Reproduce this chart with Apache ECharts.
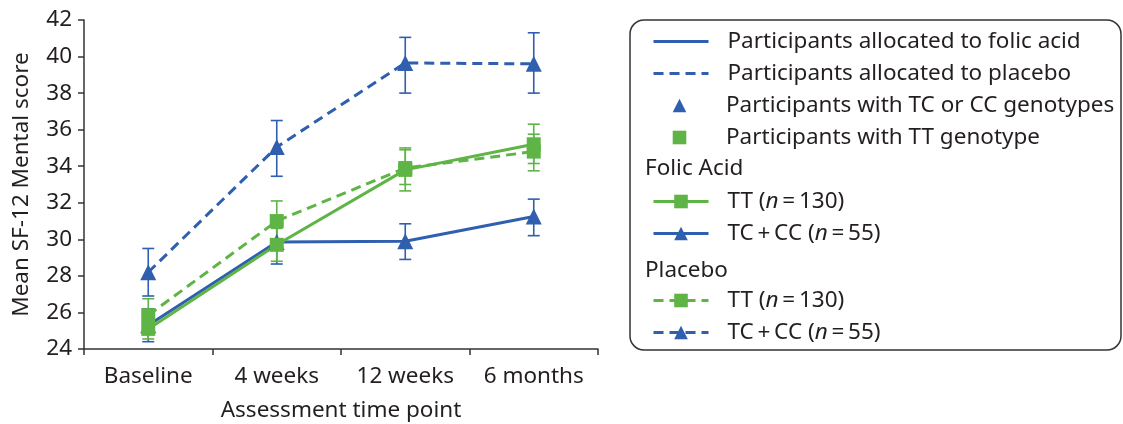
<!DOCTYPE html>
<html>
<head>
<meta charset="utf-8">
<script src="https://cdn.jsdelivr.net/npm/echarts@6/dist/echarts.min.js"></script>
<style>
html,body{margin:0;padding:0;background:#fff;}
#main{width:1123px;height:424px;}
</style>
</head>
<body>
<div id="main"></div>
<script>
// ---- data ----
const categories = ['Baseline', '4 weeks', '12 weeks', '6 months'];
const yTicks = [24, 26, 28, 30, 32, 34, 36, 38, 40, 42];

const folicTT = [25.1, 29.7, 33.8, 35.2];
const folicTTLow = [24.55, 28.8, 32.65, 34.15];
const folicTTHigh = [25.7, 30.6, 35.0, 36.3];

const folicTC = [25.3, 29.85, 29.9, 31.25];
const folicTCLow = [24.4, 28.65, 28.9, 30.2];
const folicTCHigh = [26.2, 31.05, 30.85, 32.2];

const placeboTT = [25.85, 31.0, 33.9, 34.8];
const placeboTTLow = [24.95, 29.9, 33.0, 33.75];
const placeboTTHigh = [26.75, 32.1, 34.9, 35.75];

const placeboTC = [28.2, 35.05, 39.65, 39.6];
const placeboTCLow = [26.9, 33.45, 38.0, 38.0];
const placeboTCHigh = [29.5, 36.5, 41.05, 41.3];

const legendLabels = {
  'FA_TT': 'TT ({i|n}\u2009=\u2009130)',
  'FA_TC': 'TC\u2009+\u2009CC ({i|n}\u2009=\u200955)',
  'PL_TT': 'TT ({i|n}\u2009=\u2009130)',
  'PL_TC': 'TC\u2009+\u2009CC ({i|n}\u2009=\u200955)'
};
const keyFolic = 'Participants allocated to folic acid';
const keyPlacebo = 'Participants allocated to placebo';
const keyTC = 'Participants with TC or CC genotypes';
const keyTT = 'Participants with TT genotype';

// ---- style ----
const BLUE = '#2f5fae';
const GREEN = '#5fb446';
const TXT = '#231f20';
const FONT = 'Noto Sans';
const FS = 22.5;
const DASH = [10, 6];

function errBars(name, low, high, color) {
  return {
    type: 'custom',
    name: name + '_err',
    z: 1,
    data: categories.map((c, i) => [i, low[i], high[i]]),
    renderItem: function (params, api) {
      const x = api.value(0);
      const lo = api.coord([x, api.value(1)]);
      const hi = api.coord([x, api.value(2)]);
      const w = 6;
      const st = { stroke: color, lineWidth: 1.6 };
      return {
        type: 'group',
        children: [
          { type: 'line', shape: { x1: lo[0], y1: lo[1], x2: hi[0], y2: hi[1] }, style: st },
          { type: 'line', shape: { x1: lo[0] - w, y1: lo[1], x2: lo[0] + w, y2: lo[1] }, style: st },
          { type: 'line', shape: { x1: hi[0] - w, y1: hi[1], x2: hi[0] + w, y2: hi[1] }, style: st }
        ]
      };
    }
  };
}

function lineSeries(name, data, color, dashed, symbol, size) {
  return {
    type: 'line',
    name: name,
    data: data,
    z: 3,
    symbol: symbol,
    symbolSize: size,
    showAllSymbol: true,
    itemStyle: { color: color },
    lineStyle: { color: color, width: 3, type: dashed ? DASH : 'solid' }
  };
}

function keySeries(name, color, dashed, symbol, lineWidth) {
  return {
    type: 'line',
    name: name,
    data: [],
    symbol: symbol,
    itemStyle: { color: color },
    lineStyle: { color: color, width: lineWidth, type: dashed ? DASH : 'solid' }
  };
}

function legendAt(name, yCenter, opts) {
  opts = opts || {};
  const lg = {
    data: [name],
    left: 652,
    top: yCenter - 12,
    padding: 0,
    itemWidth: 55,
    itemHeight: 17,
    selectedMode: false,
    formatter: function (n) { return legendLabels[n] || n; },
    textStyle: {
      color: TXT, fontFamily: FONT, fontSize: FS, padding: [0, 0, 0, 14],
      rich: { i: { fontStyle: 'italic', fontFamily: FONT, fontSize: FS, color: TXT } }
    }
  };
  if (opts.hideSymbol) lg.itemStyle = { opacity: 0 };
  if (opts.lineWidth !== undefined) lg.lineStyle = { width: opts.lineWidth };
  return lg;
}

const chart = echarts.init(document.getElementById('main'), null, { renderer: 'canvas' });
chart.setOption({
  animation: false,
  backgroundColor: '#ffffff',
  textStyle: { fontFamily: FONT, color: TXT },
  grid: { left: 84, right: 525, top: 20, bottom: 75, containLabel: false, outerBoundsMode: 'none' },
  xAxis: {
    type: 'category',
    data: categories,
    boundaryGap: true,
    name: 'Assessment time point',
    nameLocation: 'middle',
    nameGap: 50,
    nameTextStyle: { fontSize: FS, color: TXT, fontFamily: FONT },
    axisLine: { lineStyle: { color: '#333', width: 1.5 } },
    axisTick: { show: true, length: 6, lineStyle: { color: '#333', width: 1.5 } },
    axisLabel: { fontSize: FS, color: TXT, fontFamily: FONT, margin: 16, interval: 0, hideOverlap: false },
    splitLine: { show: false }
  },
  yAxis: {
    type: 'value',
    min: yTicks[0],
    max: yTicks[yTicks.length - 1],
    interval: yTicks[1] - yTicks[0],
    name: 'Mean SF-12 Mental score',
    nameLocation: 'middle',
    nameGap: 51,
    nameTextStyle: { fontSize: FS, color: TXT, fontFamily: FONT },
    axisLine: { show: true, lineStyle: { color: '#333', width: 1.5 } },
    axisTick: { show: true, length: 6, lineStyle: { color: '#333', width: 1.5 } },
    axisLabel: { fontSize: FS, color: TXT, fontFamily: FONT, margin: 12 },
    splitLine: { show: false }
  },
  legend: [
    legendAt(keyFolic, 42, { hideSymbol: true, lineWidth: 3 }),
    legendAt(keyPlacebo, 74, { hideSymbol: true, lineWidth: 3 }),
    legendAt(keyTC, 106),
    legendAt(keyTT, 138),
    legendAt('FA_TT', 202, { lineWidth: 3 }),
    legendAt('FA_TC', 234, { lineWidth: 3 }),
    legendAt('PL_TT', 301, { lineWidth: 3 }),
    legendAt('PL_TC', 333, { lineWidth: 3 })
  ],
  graphic: [
    { type: 'rect', z: -1, shape: { x: 630, y: 20, width: 491, height: 330, r: 14 },
      style: { fill: 'none', stroke: '#333', lineWidth: 1.5 } },
    { type: 'text', left: 645, top: 171 - 14,
      style: { text: 'Folic Acid', fill: TXT, font: FS + 'px "' + FONT + '"' } },
    { type: 'text', left: 645, top: 271 - 12,
      style: { text: 'Placebo', fill: TXT, font: FS + 'px "' + FONT + '"' } }
  ],
  series: [
    keySeries(keyFolic, BLUE, false, 'none', 3),
    keySeries(keyPlacebo, BLUE, true, 'none', 3),
    keySeries(keyTC, BLUE, false, 'triangle', 0),
    keySeries(keyTT, GREEN, false, 'rect', 0),
    errBars('FA_TC', folicTCLow, folicTCHigh, BLUE),
    errBars('PL_TC', placeboTCLow, placeboTCHigh, BLUE),
    errBars('FA_TT', folicTTLow, folicTTHigh, GREEN),
    errBars('PL_TT', placeboTTLow, placeboTTHigh, GREEN),
    lineSeries('PL_TC', placeboTC, BLUE, true, 'triangle', 16),
    lineSeries('FA_TC', folicTC, BLUE, false, 'triangle', 16),
    lineSeries('PL_TT', placeboTT, GREEN, true, 'rect', 14),
    lineSeries('FA_TT', folicTT, GREEN, false, 'rect', 14)
  ]
});
</script>
</body>
</html>
